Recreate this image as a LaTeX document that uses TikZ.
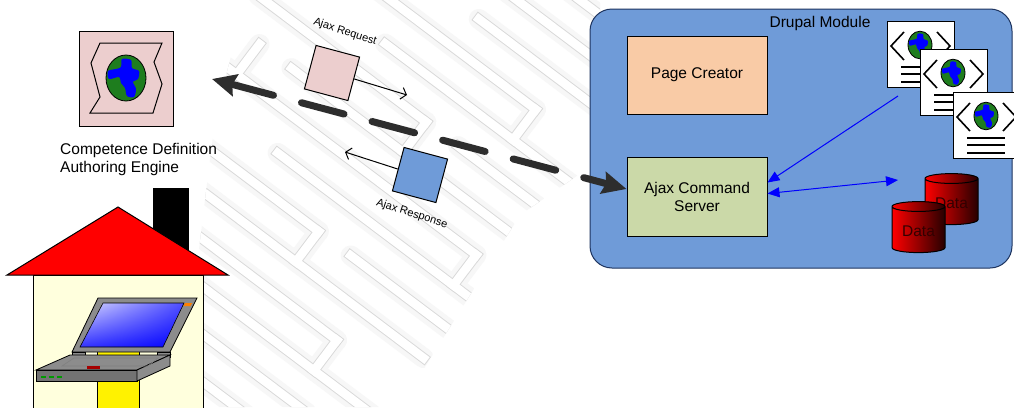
\documentclass[tikz,border=0pt]{standalone}
\usepackage{fontspec}
\setmainfont{Liberation Sans}
\usetikzlibrary{arrows.meta,shapes.geometric,shadings,positioning}

\definecolor{modblue}{RGB}{111,155,216}
\definecolor{modedge}{RGB}{30,52,95}
\definecolor{peach}{RGB}{249,203,166}
\definecolor{sage}{RGB}{203,217,168}
\definecolor{rose}{RGB}{236,206,206}
\definecolor{cream}{RGB}{255,255,221}
\definecolor{earth}{RGB}{30,125,30}
\definecolor{laptopgray}{RGB}{140,140,140}
\definecolor{arrowgray}{RGB}{45,45,45}

\tikzset{
    module/.style ={
        shape=rectangle,
        rounded corners=22pt,
        draw=modedge,
        fill=modblue,
        line width=1pt,
        minimum width=422pt,
        minimum height=259pt
    },
    box/.style ={
        shape=rectangle,
        draw=black,
        line width=1pt,
        align=center,
        minimum width=140pt,
        minimum height=78pt,
        font=\fontsize{15.5}{18}\selectfont
    },
    caption/.style ={
        align=left,
        inner sep=0pt,
        font=\fontsize{15.5}{18}\selectfont
    },
    iconbox/.style ={
        shape=rectangle,
        draw=black,
        fill=rose,
        line width=1pt,
        minimum width=94pt,
        minimum height=95pt
    },
    msgsquare/.style ={
        shape=rectangle,
        draw=black,
        line width=1pt,
        minimum size=45pt,
        inner sep=0pt,
        rotate=-15
    },
    msglabel/.style ={
        inner sep=0pt,
        rotate=-18,
        font=\fontsize{11}{13}\selectfont
    },
    msgarrow/.style ={
        draw=black,
        line width=1pt,
        -{Straight Barb[length=5pt,width=12pt]}
    },
    ajaxlink/.style ={
        draw=arrowgray,
        line width=7pt,
        line cap=round,
        dash pattern=on 44pt off 29pt,
        {Stealth[length=24pt,width=22pt,inset=3pt]}-{Stealth[length=24pt,width=22pt,inset=3pt]}
    },
    bluelink/.style ={
        draw=blue,
        line width=1pt,
        -{Triangle[length=12pt,width=10pt]}
    },
    datastore/.style ={
        shape=cylinder,
        shape border rotate=90,
        aspect=0.25,
        draw=black,
        line width=1pt,
        left color=red,
        right color=black!85!red,
        minimum width=53pt,
        minimum height=51pt,
        text=black!80!red,
        font=\fontsize{15.5}{18}\selectfont
    },
    mazehalo/.style ={draw=black!3, line width=20pt, line cap=round},
    mazeouter/.style ={draw=black!15, line width=10.5pt, line cap=rect},
    mazeinner/.style ={draw=white, line width=8.6pt, line cap=rect},
    globe/.pic ={
        \begin{scope}[scale=#1]
            \draw[fill=earth, line width=0.8pt] (0,0) ellipse (1 and 1.15);
            \fill[blue] plot[smooth cycle] coordinates {(-0.2,-0.95) (0.25,-0.9)
                (0.3,-0.5) (0.65,-0.35) (0.6,0.05) (0.35,0.2) (0.5,0.55)
                (0.4,0.95) (0.05,0.9) (-0.05,0.5) (-0.25,0.25) (-0.35,-0.05)
                (-0.85,0.05) (-0.9,-0.35) (-0.5,-0.45) (-0.25,-0.55)};
        \end{scope}
    },
    webpage/.pic ={
        \draw[fill=white, line width=1pt] (0,0) rectangle (67,66);
        \draw[line width=1.6pt] (17,11) -- (4,25) -- (17,39)
                                (50,11) -- (63,25) -- (50,39);
        \pic at (33,24) {globe=12};
        \draw[line width=1.2pt] (14,46) -- ++(38,0) (14,53) -- ++(38,0)
                                (14,61) -- ++(38,0);
    }
}

% maze walls as u1/v1/u2/v2
\newcommand\mazewalls{-60/-260/200/-260, -150/-222/120/-222, -40/-184/230/-184,
    -200/-146/60/-146, -100/-108/200/-108, -230/-70/-20/-70, 20/-70/180/-70,
    -160/-32/140/-32, -250/6/100/6, -120/44/220/44, -220/82/-40/82, 0/82/160/82,
    -180/120/120/120, -260/158/40/158, -140/196/180/196, -240/234/60/234,
    -160/272/140/272, -60/-260/-60/-222, 120/-222/120/-184, 60/-146/60/-108,
    -20/-70/-20/-32, 100/6/100/44, -40/82/-40/120, 40/158/40/196,
    -160/196/-160/234, 140/234/140/272, -200/-32/-200/6, 180/-108/180/-70}

\begin{document}
\begin{tikzpicture}[x=1pt,y=-1pt]
    \useasboundingbox (0,0) rectangle (1014,407);
    \clip (0,0) rectangle (1014,407);
    \fill[white] (0,0) rectangle (1014,407);

    % background maze
    \begin{scope}
        \clip (245,0) -- (600,0) -- (600,160) -- (520,215) -- (400,407)
              -- (180,407) -- (205,200) -- (215,120) -- cycle;
        \begin{scope}[shift={(400,190)}, rotate=-37]
            \foreach \a/\b/\c/\d in \mazewalls
                \draw[mazehalo] (\a,\b) -- (\c,\d);
            \foreach \a/\b/\c/\d in \mazewalls
                \draw[mazeouter] (\a,\b) -- (\c,\d);
            \foreach \a/\b/\c/\d in \mazewalls
                \draw[mazeinner] (\a,\b) -- (\c,\d);
        \end{scope}
    \end{scope}

    % authoring engine
    \node[iconbox] (engine) at (126,78.5) {};
    \draw[fill=rose, line width=1pt] (100,43) -- (162,43) -- (154,62) -- (162,84)
        -- (153,113) -- (90,113) -- (100,97) -- (91,63) -- cycle;
    \pic at (126,78) {globe=20};
    \node[caption, anchor=north west] (enginelabel) at (60,143)
        {Competence Definition\\Authoring Engine};

    % house with laptop
    \fill[black] (153,188) rectangle (189,260);
    \draw[fill=cream, line width=1pt] (33,275) rectangle (203,412);
    \draw[fill=red, line width=1pt] (7,275) -- (118,207) -- (228,275) -- cycle;
    \draw[fill=yellow, line width=1pt] (97,350) rectangle (139,412);
    \draw[fill=laptopgray, line width=0.8pt] (98,298) -- (197,298) -- (170,352)
        -- (72,352) -- cycle;
    \shade[upper left=blue!15!white, upper right=blue!70, lower left=blue!80,
        lower right=blue] (103,303) -- (184,303) -- (163,347) -- (80,347) -- cycle;
    \draw[line width=0.6pt] (103,303) -- (184,303) -- (163,347) -- (80,347) -- cycle;
    \fill[orange] (185,303) -- (192,303) -- (190.5,306) -- (183.5,306) -- cycle;
    \draw[fill=laptopgray, line width=0.6pt] (72,352) rectangle (85,357)
        (157,352) rectangle (170,357);
    \draw[fill=laptopgray, line width=0.8pt] (36,370) -- (70,355) -- (170,355)
        -- (137,370) -- cycle;
    \draw[fill=black!55, line width=0.8pt] (36,370) rectangle (137,381);
    \draw[fill=black!45, line width=0.8pt] (137,370) -- (170,355) -- (170,366)
        -- (137,381) -- cycle;
    \draw[black!50, line width=0.6pt] (62,366) -- (74,358) -- (158,358) -- (148,366) -- cycle;
    \fill[red!65!black] (87,366) rectangle (100,369);
    \foreach \x in {41,49,57}
        \fill[green!60!black] (\x,376) rectangle ++(5,1.5);

    % drupal module
    \node[module] (drupal) at (801,138.5) {};
    \node[caption] (drupallabel) at (820,23) {Drupal Module};
    \node[box, fill=peach] (page) at (697,75) {Page Creator};
    \node[box, fill=sage, minimum height=79pt] (acs) at (697,196.5)
        {Ajax Command\\Server};
    \pic (docA) at (887,21) {webpage};
    \pic (docB) at (920,49) {webpage};
    \pic (docC) at (953,92) {webpage};
    \node[datastore] (dbback) at (951.5,203) {Data};
    \node[datastore] (dbfront) at (918.5,231) {Data};

    \coordinate (docfoot) at (898,96);
    \coordinate (dbport) at (898,180);
    \draw[bluelink] (docfoot) -- ([yshift=14pt]acs.east);
    \draw[bluelink, {Triangle[length=12pt,width=10pt]}-{Triangle[length=12pt,width=10pt]}]
        ([yshift=3pt]acs.east) -- (dbport);

    % ajax traffic
    \coordinate (engineport) at (212,79);
    \draw[ajaxlink] (engineport) -- ([yshift=7.5pt]acs.west);

    \node[msgsquare, fill=rose] (req) at (332,73) {};
    \node[msglabel] (reqlabel) at (345,32) {Ajax Request};
    \coordinate (reqhead) at (407,95);
    \draw[msgarrow] (req.east) -- (reqhead);

    \node[msgsquare, fill=modblue] (resp) at (420,175) {};
    \node[msglabel] (resplabel) at (412,214) {Ajax Response};
    \coordinate (resphead) at (345,152);
    \draw[msgarrow] (resp.west) -- (resphead);
\end{tikzpicture}
\end{document}
